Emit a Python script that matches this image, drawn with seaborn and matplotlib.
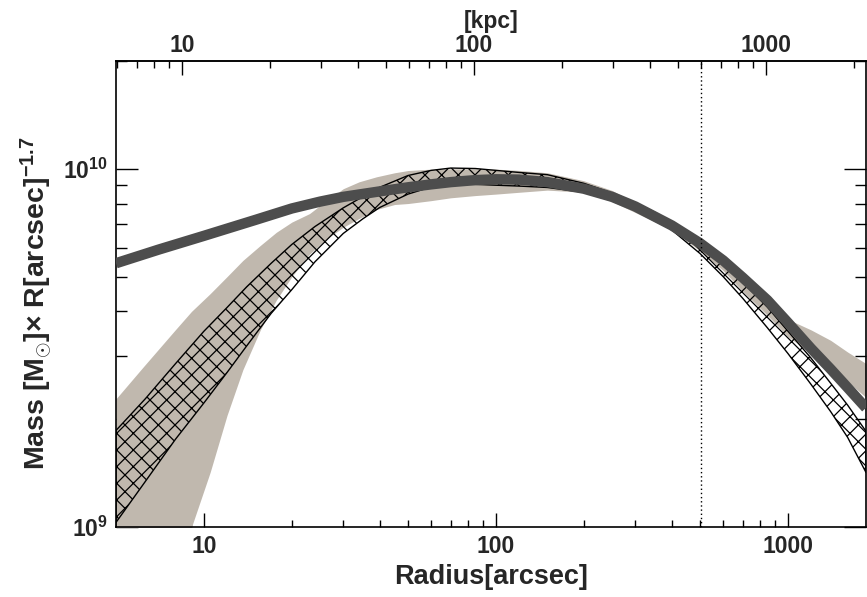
import numpy as np
import pandas as pd
import matplotlib
matplotlib.use("Agg")
import matplotlib.pyplot as plt
import seaborn as sns
from matplotlib.ticker import FixedLocator, LogLocator, FuncFormatter, NullFormatter

# ---------------- data, masses in units of 1e9 ----------------
KPC_PER_ARCSEC = 1.189
VLINE_KPC = 600.0
UNIT = 1e9

# thick dark model curve
X_MODEL = [5, 7, 10, 15, 20, 25, 30, 40, 50, 60, 70, 85, 100, 120, 150, 200, 250, 300,
           400, 500, 600, 700, 850, 1000, 1200, 1400, 1600, 1850]
Y_MODEL = [5.45, 5.95, 6.5, 7.2, 7.75, 8.1, 8.35, 8.65, 8.88, 9.05, 9.18, 9.3, 9.35, 9.33,
           9.18, 8.8, 8.35, 7.85, 6.95, 6.2, 5.55, 4.97, 4.3, 3.72, 3.15, 2.76, 2.45, 2.15]

# tan (observed) band
X_OBS = [5, 6.2, 8, 9.07, 10.5, 12, 13.6, 15.6, 17.7, 20, 23, 26, 30, 34, 39, 45, 50, 60,
         70, 85, 100, 120, 150, 200, 250, 300, 400, 500, 600, 700, 850, 1000, 1200, 1400,
         1600, 1850]
OBS_HI = [2.28, 2.8, 3.56, 4.0, 4.48, 5.0, 5.55, 6.11, 6.65, 7.1, 7.5, 8.1, 8.8, 9.2, 9.5,
          9.75, 9.89, 9.98, 10.0, 10.0, 9.98, 9.9, 9.75, 9.26, 8.7, 8.04, 7.07, 6.3, 5.6,
          4.97, 4.3, 3.8, 3.55, 3.32, 3.08, 2.86]
OBS_LO = [0.35, 0.5, 0.75, 1.0, 1.42, 2.05, 2.75, 3.55, 4.3, 5.0, 5.78, 6.33, 6.87, 7.27,
          7.7, 7.95, 8.0, 8.15, 8.3, 8.42, 8.5, 8.6, 8.72, 8.6, 8.1, 7.55, 6.75, 5.9, 5.2,
          4.55, 3.9, 3.4, 3.05, 2.8, 2.55, 2.3]

# hatched (fit) band
X_FIT = [5, 6.3, 8, 10, 12, 14, 17, 20, 24, 30, 35, 40, 50, 60, 70, 85, 100, 120, 150, 200,
         250, 300, 350, 400, 500, 600, 700, 850, 1000, 1200, 1400, 1600, 1850]
FIT_HI = [1.86, 2.28, 2.86, 3.52, 4.1, 4.68, 5.45, 6.15, 6.9, 7.78, 8.36, 8.88, 9.58, 9.9,
          10.05, 10.02, 9.9, 9.77, 9.63, 9.11, 8.56, 8.04, 7.56, 7.12, 6.23, 5.48, 4.82,
          4.11, 3.52, 2.96, 2.52, 2.19, 1.85]
FIT_LO = [1.03, 1.34, 1.76, 2.22, 2.7, 3.2, 3.95, 4.6, 5.5, 6.6, 7.25, 7.8, 8.5, 8.9, 9.05,
          9.05, 9.0, 8.95, 8.87, 8.6, 8.15, 7.68, 7.2, 6.75, 5.8, 5.0, 4.35, 3.6, 3.05, 2.5,
          2.1, 1.78, 1.42]

X_TICKS = [10, 100, 1000]
X_TICKLABELS = ["10", "100", "1000"]
Y_TICKS = [1e9, 1e10]
TOP_TICKS = [10, 100, 1000]
TOP_TICKLABELS = ["10", "100", "1000"]

TAN = "#c0b8ae"
DARK = "#4d4d4d"

# ---------------- style ----------------
sns.set_theme(style="ticks")
plt.rcParams['font.family'] = ['Liberation Sans', 'DejaVu Sans']
plt.rcParams['font.weight'] = 'bold'
plt.rcParams['mathtext.fontset'] = 'custom'
plt.rcParams['mathtext.rm'] = 'Liberation Sans:bold'
plt.rcParams['mathtext.bf'] = 'Liberation Sans:bold'
plt.rcParams['mathtext.it'] = 'Liberation Sans:bold:italic'
plt.rcParams['mathtext.default'] = 'bf'
plt.rcParams['hatch.linewidth'] = 0.9
plt.rcParams['hatch.color'] = 'black'
plt.rcParams['axes.linewidth'] = 1.2

fig = plt.figure(figsize=(8.67, 5.97), dpi=100)
ax = fig.add_axes([116 / 867, 70 / 597, 750 / 867, 466 / 597])

ax.set_xscale('log')
ax.set_yscale('log')

obs = pd.DataFrame({"r": X_OBS, "lo": np.array(OBS_LO) * UNIT, "hi": np.array(OBS_HI) * UNIT})
fit = pd.DataFrame({"r": X_FIT, "lo": np.array(FIT_LO) * UNIT, "hi": np.array(FIT_HI) * UNIT})
model = pd.DataFrame({"r": X_MODEL, "m": np.array(Y_MODEL) * UNIT})

ax.fill_between(obs["r"], obs["lo"], obs["hi"], color=TAN, lw=0, zorder=1)
ax.fill_between(fit["r"], fit["lo"], fit["hi"], facecolor='none', edgecolor='black',
                hatch='xx', lw=1.0, zorder=2)
sns.lineplot(data=model, x="r", y="m", color=DARK, lw=7.5, ax=ax, zorder=3,
             solid_capstyle='butt', sort=False)
ax.axvline(VLINE_KPC / KPC_PER_ARCSEC, color='black', ls=(0, (1, 2)), lw=1.0, zorder=4)

ax.set_xlim(5, 1850)
ax.set_ylim(1e9, 2e10)

# x axis (bottom)
ax.xaxis.set_major_locator(FixedLocator(X_TICKS))
ax.set_xticklabels(X_TICKLABELS)
ax.xaxis.set_minor_locator(LogLocator(base=10, subs=np.arange(2, 10)))
ax.xaxis.set_minor_formatter(NullFormatter())
# y axis
ax.yaxis.set_major_locator(FixedLocator(Y_TICKS))
ax.yaxis.set_major_formatter(FuncFormatter(lambda v, p: r"$10^{%d}$" % round(np.log10(v))))
ax.yaxis.set_minor_locator(LogLocator(base=10, subs=np.arange(2, 10)))
ax.yaxis.set_minor_formatter(NullFormatter())

ax.tick_params(axis='both', which='both', direction='in', top=False, right=True,
               color='black', width=1.0)
ax.tick_params(axis='x', which='major', length=10, labelsize=16.5, pad=6)
ax.tick_params(axis='x', which='minor', length=5)
ax.tick_params(axis='y', which='major', length=16, labelsize=16.5, pad=6)
ax.tick_params(axis='y', which='minor', length=8)

ax.set_xlabel("Radius[arcsec]", fontsize=19.5, fontweight='bold', va='top')
ax.xaxis.set_label_coords(0.5, -0.08)
ax.set_ylabel("Mass [M$_{\\odot}$]× R[arcsec]$^{-1.7}$", fontsize=20.5, fontweight='bold')
ax.yaxis.set_label_coords(-0.083, 0.48)

# top axis in kpc
sec = ax.secondary_xaxis('top', functions=(lambda x: x * KPC_PER_ARCSEC,
                                           lambda x: x / KPC_PER_ARCSEC))
sec.xaxis.set_major_locator(FixedLocator(TOP_TICKS))
sec.set_xticklabels(TOP_TICKLABELS)
sec.xaxis.set_minor_locator(LogLocator(base=10, subs=np.arange(2, 10)))
sec.xaxis.set_minor_formatter(NullFormatter())
sec.tick_params(axis='x', which='both', direction='in', color='black', width=1.0)
sec.tick_params(axis='x', which='major', length=10, labelsize=16.5, pad=3)
sec.tick_params(axis='x', which='minor', length=5)
sec.set_xlabel("[kpc]", fontsize=16.5, fontweight='bold', labelpad=4)

for s in ax.spines.values():
    s.set_color('black')
    s.set_linewidth(1.2)

fig.savefig("out.png", dpi=100)
